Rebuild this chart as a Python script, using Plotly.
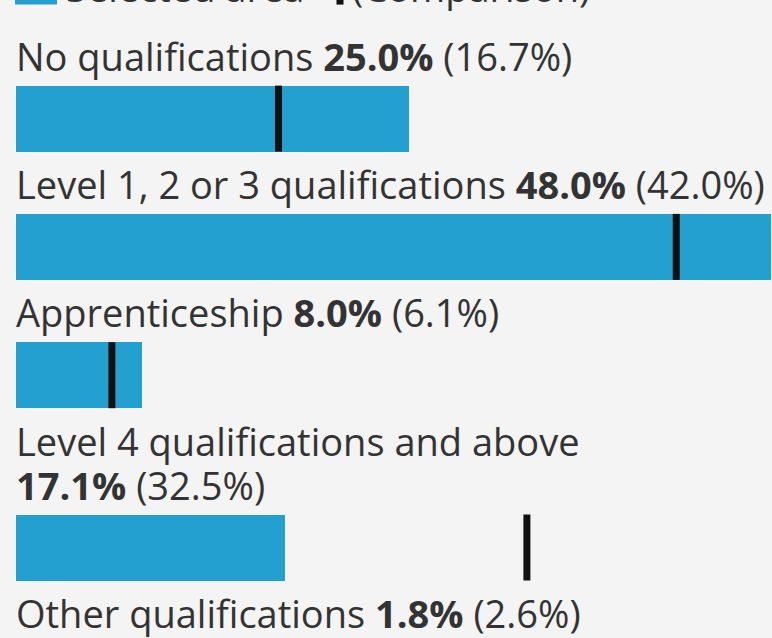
import plotly.graph_objects as go

# ---- data ----
categories = [
    "No qualifications",
    "Level 1, 2 or 3 qualifications",
    "Apprenticeship",
    "Level 4 qualifications and above",
    "Other qualifications",
]
area_values = [25.0, 48.0, 8.0, 17.1, 1.8]
comparison_values = [16.7, 42.0, 6.1, 32.5, 2.6]
legend_area_label = "Selected area"
legend_comparison_label = "(Comparison)"

# ---- layout constants (pixels) ----
W, H = 772, 638
X0 = 16            # pixel where value 0 sits
XPX = 15.72        # pixels per percentage point
FS = 38            # font size
ROW = 128.3        # baseline-to-baseline distance between single-line rows
LINE = 44          # extra line height for wrapped labels
BASE0 = 72.6       # baseline of first label
BAR_OFF = 13       # baseline -> bar top
BAR_H = 66         # bar thickness
DESC = 11.0        # baseline -> bottom of annotation box
TEXT_DX = -2       # text left offset relative to bar start
MAX_CHARS = 45     # wrap labels longer than this
BLUE = "#23a0d0"
TEXT = "#333333"
BG = "#f4f4f4"
FONT = "Open Sans"


def px2x(p):
    return (p - X0) / XPX


def py2paper(p):
    # plot area spans the whole figure, so paper coords map straight to pixels
    return 1 - p / H


annotations = []
bar_centers = []
b = BASE0
for cat, v, c in zip(categories, area_values, comparison_values):
    values_txt = f"<b>{v:.1f}%</b> ({c:.1f}%)"
    full = f"{cat} {v:.1f}% ({c:.1f}%)"
    if len(full) > MAX_CHARS:
        lines = [cat, values_txt]
    else:
        lines = [f"{cat} {values_txt}"]
    for k, t in enumerate(lines):
        annotations.append(dict(
            x=px2x(X0 + TEXT_DX), y=py2paper(b + k * LINE + DESC),
            xref="x", yref="paper",
            xanchor="left", yanchor="bottom", text=t, showarrow=False,
            font=dict(family=FONT, size=FS, color=TEXT), align="left",
        ))
    last = b + (len(lines) - 1) * LINE
    bar_centers.append(last + BAR_OFF + BAR_H / 2)
    b = last + ROW

# legend row (mostly cut off at the top edge)
leg_base = BASE0 - 69
shapes = [
    dict(type="rect", xref="x", yref="y", x0=px2x(15), x1=px2x(57),
         y0=leg_base - 41, y1=leg_base + 1, fillcolor=BLUE, line=dict(width=0)),
    dict(type="line", xref="x", yref="y", x0=px2x(340), x1=px2x(340),
         y0=leg_base - 41, y1=leg_base + 1, line=dict(color="#111111", width=7)),
]
annotations.append(dict(
    x=px2x(64), y=py2paper(leg_base + DESC), xref="x", yref="paper",
    xanchor="left", yanchor="bottom", text=legend_area_label, showarrow=False,
    font=dict(family=FONT, size=FS, color=TEXT)))
annotations.append(dict(
    x=px2x(350), y=py2paper(leg_base + DESC), xref="x", yref="paper",
    xanchor="left", yanchor="bottom", text=legend_comparison_label,
    showarrow=False, font=dict(family=FONT, size=FS, color=TEXT)))

fig = go.Figure()
fig.add_trace(go.Bar(
    x=area_values, y=bar_centers, orientation="h", width=BAR_H,
    marker=dict(color=BLUE, line=dict(width=0)), hoverinfo="skip",
))
fig.add_trace(go.Scatter(
    x=comparison_values, y=bar_centers, mode="markers",
    marker=dict(symbol="line-ns", size=BAR_H / 1.4,
                line=dict(width=7, color="#111111")),
    hoverinfo="skip",
))

fig.update_layout(
    width=W, height=H, margin=dict(l=0, r=0, t=0, b=0),
    paper_bgcolor=BG, plot_bgcolor=BG, showlegend=False,
    xaxis=dict(range=[px2x(0), px2x(W)], visible=False, fixedrange=True),
    yaxis=dict(range=[H, 0], visible=False, fixedrange=True),
    annotations=annotations, shapes=shapes, bargap=0,
)

fig.write_html(
    "out.html",
    config={"displayModeBar": False},
    post_script="document.body.style.margin='0';document.body.style.overflow='hidden';"
                "document.body.style.background='" + BG + "';",
)
